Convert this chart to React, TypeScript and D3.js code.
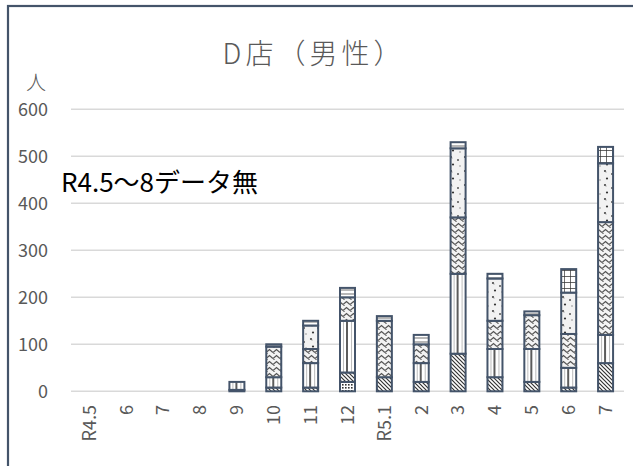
import React from "react";
import * as d3 from "d3";

const categories = ["R4.5", "6", "7", "8", "9", "10", "11", "12", "R5.1", "2", "3", "4", "5", "6", "7"];
const seriesKeys = ["checker", "diag", "vert", "wave", "dots", "cap", "grid"];

const checker = [0, 0, 0, 0, 0, 0, 0, 20, 0, 0, 0, 0, 0, 0, 0];
const diag = [0, 0, 0, 0, 3, 8, 8, 20, 30, 20, 80, 30, 20, 8, 60];
const vert = [0, 0, 0, 0, 17, 22, 52, 110, 0, 40, 170, 60, 70, 42, 60];
const wave = [0, 0, 0, 0, 0, 65, 30, 50, 120, 40, 120, 60, 72, 72, 240];
const dots = [0, 0, 0, 0, 0, 0, 50, 0, 0, 0, 147, 90, 0, 88, 125];
const cap = [0, 0, 0, 0, 0, 5, 10, 20, 10, 20, 13, 10, 8, 0, 0];
const grid = [0, 0, 0, 0, 0, 0, 0, 0, 0, 0, 0, 0, 0, 50, 35];

const yTicks = [0, 100, 200, 300, 400, 500, 600];

const W = 633;
const H = 466;
const left = 71;
const right = 624;
const top = 109.3;
const bottom = 391.3;
const barW = 15;

const font = "'Noto Sans CJK JP', 'Noto Sans', sans-serif";

const App = () => {
  const table = categories.map((c, i) => ({
    cat: c,
    checker: checker[i],
    diag: diag[i],
    vert: vert[i],
    wave: wave[i],
    dots: dots[i],
    cap: cap[i],
    grid: grid[i],
    idx: i,
  }));

  const x = d3
    .scaleBand()
    .domain(table.map((d) => String(d.idx)))
    .range([left, right])
    .padding(0);

  const y = d3.scaleLinear().domain([0, 600]).range([bottom, top]);

  const stacked = d3.stack().keys(seriesKeys)(table as any);
  const step = x.step();

  return (
    <svg width={W} height={H} style={{ position: "absolute", left: 0, top: 0, background: "#fff" }}>
      <defs>
        <pattern id="p-checker" width="3" height="3" patternUnits="userSpaceOnUse">
          <rect width="3" height="3" fill="#fff" />
          <rect width="1.6" height="1.6" fill="#333" />
        </pattern>
        <pattern id="p-diag" width="4" height="4" patternUnits="userSpaceOnUse">
          <rect width="4" height="4" fill="#fff" />
          <path d="M0,0 L4,4 M-1,3 L1,5 M3,-1 L5,1" stroke="#333" strokeWidth="1.2" />
        </pattern>
        <pattern id="p-vert" x={left} width={step} height="10" patternUnits="userSpaceOnUse">
          <rect width={step} height="10" fill="#fff" />
          <line x1={step / 2 - 4} x2={step / 2 - 4} y1="0" y2="10" stroke="#bbb" strokeWidth="1" />
          <line x1={step / 2 + 4} x2={step / 2 + 4} y1="0" y2="10" stroke="#bbb" strokeWidth="1" />
          <line x1={step / 2 - 0.5} x2={step / 2 - 0.5} y1="0" y2="10" stroke="#333" strokeWidth="1.6" />
        </pattern>
        <pattern id="p-wave" width="7" height="6" patternUnits="userSpaceOnUse">
          <rect width="7" height="6" fill="#f3f3f3" />
          <path d="M0,4.5 L3.5,1.5 L7,4.5" fill="none" stroke="#555" strokeWidth="1.3" />
          <circle cx="1" cy="5.5" r="0.6" fill="#222" />
        </pattern>
        <pattern id="p-dots" width="14" height="14" patternUnits="userSpaceOnUse">
          <rect width="14" height="14" fill="#f2f2f2" />
          <circle cx="3" cy="3" r="1.1" fill="#444" />
          <circle cx="4" cy="4" r="0.6" fill="#888" />
          <circle cx="10" cy="6" r="1" fill="#555" />
          <circle cx="5" cy="10.5" r="1.1" fill="#333" />
          <circle cx="12" cy="12" r="0.7" fill="#777" />
        </pattern>
        <pattern id="p-cap" width="4" height="4" patternUnits="userSpaceOnUse">
          <rect width="4" height="4" fill="#fff" />
          <line x1="0" x2="4" y1="2" y2="2" stroke="#888" strokeWidth="1.2" />
        </pattern>
        <pattern id="p-grid" width="6" height="6" patternUnits="userSpaceOnUse">
          <rect width="6" height="6" fill="#fff" />
          <path d="M0,0 L6,0 M0,0 L0,6" stroke="#333" strokeWidth="1.4" />
        </pattern>
      </defs>

      {/* chart frame */}
      <rect x={8} y={6} width={700} height={600} fill="#fff" stroke="#44546A" strokeWidth={2.2} />

      <text x={314} y={64} textAnchor="middle" fontFamily={font} fontSize={28} fontWeight={300} letterSpacing={4} fill="#595959">
        D店（男性）
      </text>
      <text x={36} y={90} textAnchor="middle" fontFamily={font} fontSize={20} fontWeight={300} fill="#595959">
        人
      </text>

      {yTicks.map((t) => (
        <g key={t}>
          <line x1={left} x2={right} y1={y(t)} y2={y(t)} stroke="#d9d9d9" strokeWidth={1.5} />
          <text x={48} y={y(t)} dy="0.35em" textAnchor="end" fontFamily={font} fontSize={18} fill="#595959">
            {t}
          </text>
        </g>
      ))}

      {stacked.map((layer) => (
        <g key={layer.key} fill={`url(#p-${layer.key})`}>
          {layer.map((d, i) =>
            d[1] - d[0] > 0 ? (
              <rect
                key={i}
                x={(x(String(i)) as number) + step / 2 - barW / 2}
                y={y(d[1])}
                width={barW}
                height={y(d[0]) - y(d[1])}
                stroke="#44546A"
                strokeWidth={2}
              />
            ) : null
          )}
        </g>
      ))}

      {categories.map((c, i) => {
        const cx = (x(String(i)) as number) + step / 2;
        return (
          <text
            key={i}
            transform={`translate(${cx},405) rotate(-90)`}
            dy="0.35em"
            textAnchor="end"
            fontFamily={font}
            fontSize={18}
            fill="#595959"
          >
            {c}
          </text>
        );
      })}

      <text x={61} y={192} fontFamily={font} fontSize={26} fill="#000">
        R4.5〜8データ無
      </text>
    </svg>
  );
};

export default App;
